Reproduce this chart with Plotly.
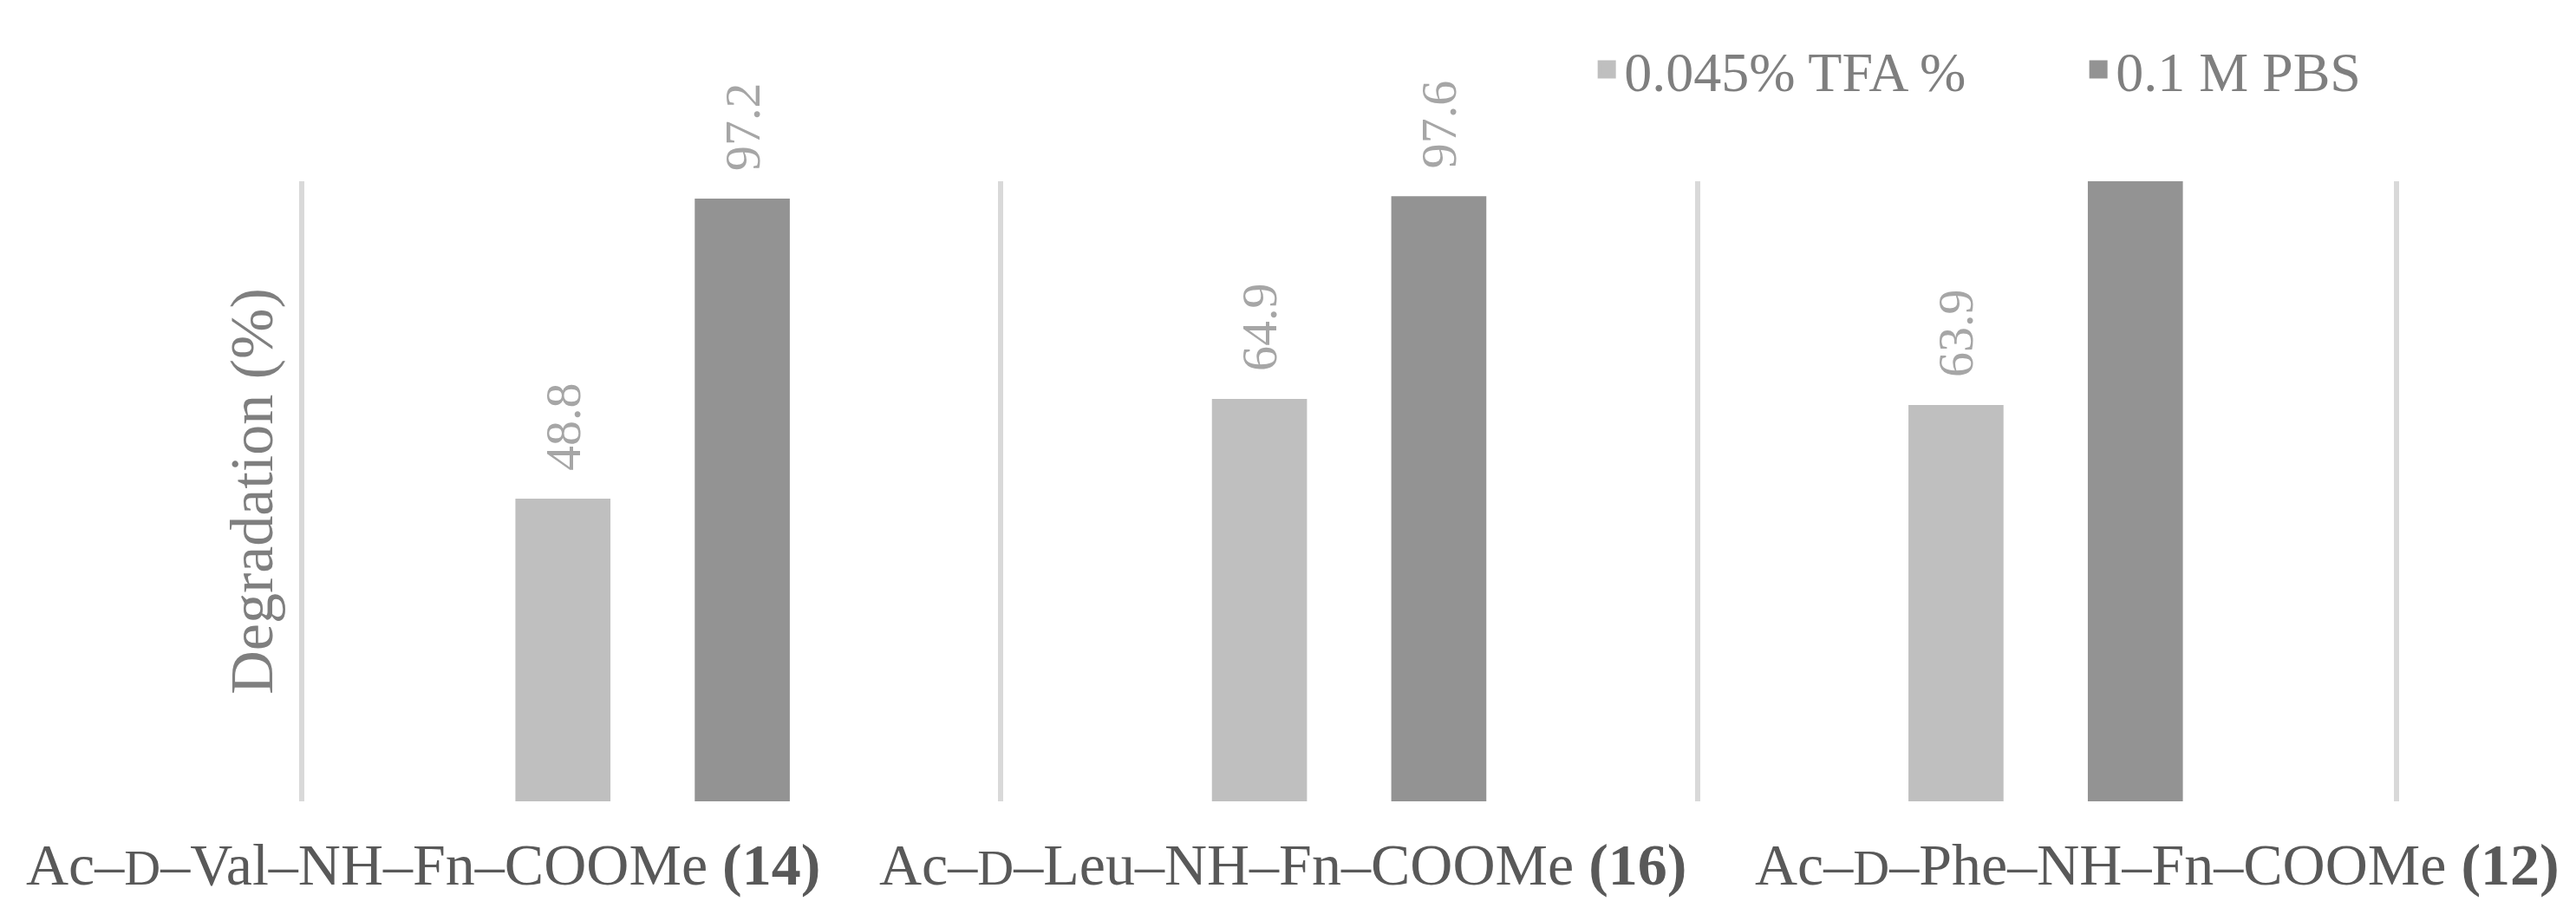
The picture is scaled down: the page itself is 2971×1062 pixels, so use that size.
import plotly.graph_objects as go

SMALL_D = "<span style='font-size:58px'>D</span>"
categories = [
    f"Ac–{SMALL_D}–Val–NH–Fn–COOMe <b>(14)</b>",
    f"Ac–{SMALL_D}–Leu–NH–Fn–COOMe <b>(16)</b>",
    f"Ac–{SMALL_D}–Phe–NH–Fn–COOMe <b>(12)</b>",
]
series_names = ["0.045% TFA %", "0.1 M PBS"]
tfa_values = [48.8, 64.9, 63.9]
pbs_values = [97.2, 97.6, 100.0]
tfa_labels = ["48.8", "64.9", "63.9"]
pbs_labels = ["97.2", "97.6", ""]
series_colors = ["#bfbfbf", "#939393"]

cat_keys = ["c14", "c16", "c12"]
label_x = [-0.33, 0.905, 2.16]

FONT = "Liberation Serif, Times New Roman, serif"

fig = go.Figure()
for name, vals, labs, col in zip(series_names, [tfa_values, pbs_values],
                                 [tfa_labels, pbs_labels], series_colors):
    fig.add_trace(go.Bar(
        x=cat_keys, y=vals, name=name, showlegend=False,
        marker=dict(color=col, line=dict(width=0)),
        text=labs, texttemplate="\u00a0\u00a0%{text}",
        textposition="outside", textangle=-90, constraintext="none",
        textfont=dict(family=FONT, size=58, color="#a6a6a6"),
        cliponaxis=False,
    ))
# legend entries
for name, col in zip(series_names, series_colors):
    fig.add_trace(go.Scatter(
        x=[None], y=[None], mode="markers", name=name,
        marker=dict(symbol="square", size=30, color=col,
                    line=dict(width=12, color=col)),
    ))

annotations = []
for xi, lab in zip(label_x, categories):
    annotations.append(dict(
        x=xi, xref="x", y=-0.102, yref="paper", text=lab, showarrow=False,
        xanchor="center", yanchor="middle",
        font=dict(family=FONT, size=68, color="#595959"),
    ))

fig.update_layout(
    width=2971, height=1062,
    margin=dict(l=343, r=202, t=201, b=146),
    paper_bgcolor="white", plot_bgcolor="white",
    barmode="group", bargap=0.485, bargroupgap=0.47,
    font=dict(family=FONT, color="#7f7f7f"),
    showlegend=True,
    legend=dict(
        orientation="h", x=0.615, xanchor="left", y=1.18, yanchor="middle",
        font=dict(family=FONT, size=64, color="#7f7f7f"),
        bgcolor="rgba(0,0,0,0)", entrywidth=522, traceorder="normal",
        itemsizing="trace",
    ),
    xaxis=dict(
        type="category", tickson="boundaries", showgrid=True,
        gridcolor="#d9d9d9", gridwidth=6, showticklabels=False, ticks="",
        showline=False, zeroline=False, range=[-0.5, 2.5],
    ),
    yaxis=dict(
        range=[0, 100], showgrid=False, showticklabels=False, ticks="",
        showline=True, mirror=True, linecolor="#d9d9d9", linewidth=6,
        zeroline=False, automargin=False,
        title=dict(text="Degradation (%)", standoff=10,
                   font=dict(family=FONT, size=70, color="#7f7f7f")),
    ),
    annotations=annotations,
)

fig.write_html("out.html")
